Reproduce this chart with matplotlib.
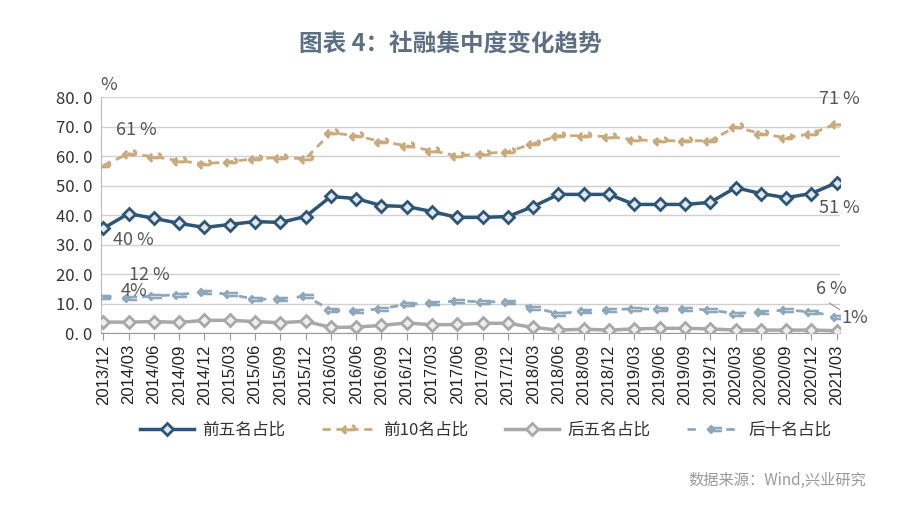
import matplotlib
matplotlib.use("Agg")
import matplotlib.pyplot as plt

plt.rcParams['font.family'] = ['Noto Sans CJK SC', 'DejaVu Sans']

dates = ["2013/12", "2014/03", "2014/06", "2014/09", "2014/12", "2015/03", "2015/06",
         "2015/09", "2015/12", "2016/03", "2016/06", "2016/09", "2016/12", "2017/03",
         "2017/06", "2017/09", "2017/12", "2018/03", "2018/06", "2018/09", "2018/12",
         "2019/03", "2019/06", "2019/09", "2019/12", "2020/03", "2020/06", "2020/09",
         "2020/12", "2021/03"]

top5 = [35.5, 40.5, 38.9, 37.2, 35.8, 36.8, 37.8, 37.5, 39.5, 46.3, 45.6, 43.2, 42.9, 41.2,
        39.2, 39.2, 39.5, 42.9, 47.0, 47.0, 47.0, 43.6, 43.6, 43.6, 44.3, 49.3, 47.3, 45.9,
        47.3, 51.0]
top10 = [56.8, 60.8, 59.8, 58.4, 57.4, 58.1, 59.1, 59.5, 59.1, 67.9, 66.9, 64.9, 63.5, 61.8,
         60.1, 60.8, 61.5, 64.2, 66.9, 66.9, 66.6, 65.5, 65.2, 65.2, 65.2, 69.9, 67.6, 66.2,
         67.6, 71.0]
bottom5 = [3.7, 3.7, 3.9, 3.6, 4.3, 4.3, 3.9, 3.5, 4.0, 1.9, 2.0, 2.6, 3.4, 2.8,
           2.9, 3.3, 3.3, 1.9, 1.0, 1.3, 1.0, 1.4, 1.6, 1.6, 1.4, 1.0, 1.0, 1.0,
           1.0, 0.8]
bottom10 = [12.3, 11.9, 12.6, 13.0, 14.0, 13.1, 11.5, 11.5, 12.5, 7.8, 7.4, 8.3, 9.7, 10.2,
            10.9, 10.6, 10.6, 8.6, 6.6, 7.4, 7.8, 8.3, 8.0, 8.3, 7.8, 6.6, 7.2, 7.8,
            7.2, 5.5]

c_top5 = '#2e5574'
c_top10 = '#c8aa7c'
c_bot5 = '#a8a8a8'
c_bot10 = '#8ea8ba'
c_text = '#555555'

fig = plt.figure(figsize=(9, 5.22), dpi=100)
ax = fig.add_axes([0.1122, 0.362, 0.8211, 0.452])

x = list(range(len(dates)))
ax.plot(x, top5, color=c_top5, lw=2.5, marker='D', ms=6.5, mfc='#dfe8f0', mec=c_top5, mew=2,
        label='前五名占比', zorder=4)
ax.plot(x, top10, color=c_top10, lw=2, ls=(0, (3, 2)), marker=r'$\hookleftarrow$', ms=10,
        mfc=c_top10, mec=c_top10, label='前10名占比', zorder=3)
ax.plot(x, bottom5, color=c_bot5, lw=2.5, marker='D', ms=6.5, mfc='#eeeeee', mec=c_bot5, mew=2,
        label='后五名占比', zorder=3)
ax.plot(x, bottom10, color=c_bot10, lw=2, ls=(0, (3, 4)), marker=r'$\Leftarrow$', ms=10,
        mfc=c_bot10, mec=c_bot10, label='后十名占比', zorder=3)

ax.set_xlim(-0.09, 29.13)
ax.set_ylim(0, 80)
ax.set_yticks(range(0, 81, 10))
ax.set_yticklabels([f"{v:.1f}".replace('.', '. ') for v in range(0, 81, 10)],
                   fontsize=12, color='#333333')
ax.set_xticks(x)
ax.set_xticklabels(dates, rotation=90, fontsize=12, family=['Liberation Sans', 'DejaVu Sans'],
                   color='#222222')
ax.tick_params(axis='x', length=5, color='#999999', pad=3)
ax.tick_params(axis='y', length=0, pad=6)
ax.grid(axis='y', color='#d0d0d0', lw=1)
ax.set_axisbelow(True)
for s in ['top', 'right']:
    ax.spines[s].set_visible(False)
ax.spines['left'].set_color('#bbbbbb')
ax.spines['bottom'].set_color('#999999')

# data labels
lbl = dict(fontsize=13, color=c_text)
ax.text(-0.1, 84, '%', ha='left', va='center', clip_on=False, **lbl)
ax.text(0.5, 69, '61 %', ha='left', va='center', **lbl)
ax.text(0.4, 31.5, '40 %', ha='left', va='center', **lbl)
ax.text(1.0, 19.8, '12 %', ha='left', va='center', **lbl)
ax.text(0.7, 14.2, '4%', ha='left', va='center', **lbl)
ax.text(29.9, 79.5, '71 %', ha='right', va='center', clip_on=False, **lbl)
ax.text(29.9, 42.5, '51 %', ha='right', va='center', clip_on=False, **lbl)
ax.text(29.4, 14.8, '6 %', ha='right', va='center', **lbl)
ax.text(29.2, 5.0, '1%', ha='left', va='center', clip_on=False, **lbl)
ax.plot([28.7, 29.3], [10.2, 7.0], color='#999999', lw=0.8)

fig.text(0.5, 0.915, '图表 4：社融集中度变化趋势', ha='center', va='center', fontsize=17,
         color='#5d7083', fontweight='bold')
fig.text(0.962, 0.08, '数据来源：Wind,兴业研究', ha='right', va='center', fontsize=11,
         color='#999999')

fig.legend(loc='center', bbox_to_anchor=(0.54, 0.176), ncol=4, frameon=False, fontsize=12,
           handlelength=3.2, columnspacing=2.2, handletextpad=0.5, labelcolor='#333333')

fig.savefig('out.png', dpi=100)
